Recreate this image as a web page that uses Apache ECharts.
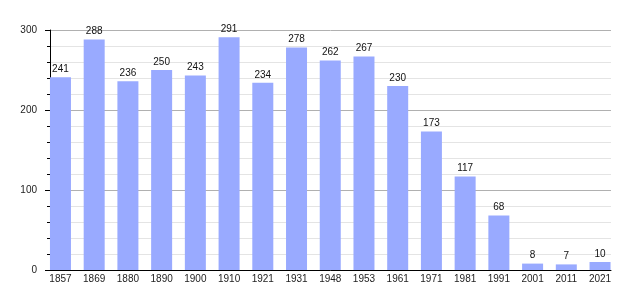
<!DOCTYPE html>
<html><head><meta charset="utf-8">
<script src="https://cdn.jsdelivr.net/npm/echarts@6/dist/echarts.min.js"></script>
<style>html,body{margin:0;padding:0;background:#fff}#c{width:640px;height:300px}</style>
</head><body><div id="c"></div>
<script>
var years = ['1857','1869','1880','1890','1900','1910','1921','1931','1948','1953','1961','1971','1981','1991','2001','2011','2021'];
var population = [241,288,236,250,243,291,234,278,262,267,230,173,117,68,8,7,10];
var yTicks = [0,100,200,300];

var chart = echarts.init(document.getElementById('c'), null, {renderer:'canvas'});
var font = 'Liberation Sans, Arial, sans-serif';
chart.setOption({
  animation:false,
  grid:[
    {left:50, right:29, top:30, bottom:30},
    {left:43.6, right:23.1, top:30, bottom:30}
  ],
  xAxis:[
    {gridIndex:0, type:'value', min:0, max:1, axisLine:{show:true, lineStyle:{color:'#000', width:1}},
     axisTick:{show:false}, axisLabel:{show:false}, splitLine:{show:false}},
    {gridIndex:1, type:'category', data:years, axisLine:{show:false}, axisTick:{show:false},
     axisLabel:{color:'#222', fontSize:10, fontFamily:font, margin:4, interval:0}}
  ],
  yAxis:[
    {gridIndex:0, type:'value', min:yTicks[0], max:yTicks[yTicks.length-1], interval:100,
     axisLine:{show:true, lineStyle:{color:'#000', width:1}},
     axisTick:{show:true, length:5, lineStyle:{color:'#000'}},
     minorTick:{show:true, splitNumber:5, length:3, lineStyle:{color:'#000'}},
     axisLabel:{color:'#222', fontSize:10, fontFamily:font, margin:13},
     splitLine:{show:true, lineStyle:{color:'#b0b0b0', width:1}},
     minorSplitLine:{show:true, lineStyle:{color:'#e4e4e4', width:1}}},
    {gridIndex:1, type:'value', min:0, max:300, show:false, splitLine:{show:false}}
  ],
  series:[{
    type:'bar', xAxisIndex:1, yAxisIndex:1, data:population, barWidth:21,
    itemStyle:{color:'#99aaff'},
    label:{show:true, position:'top', distance:3, color:'#111', fontSize:10, fontFamily:font}
  }]
});
</script></body></html>
